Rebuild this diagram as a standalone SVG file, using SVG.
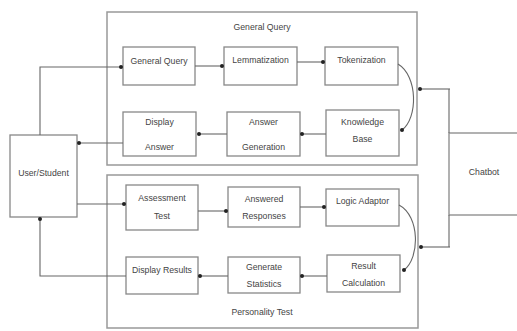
<svg xmlns="http://www.w3.org/2000/svg" width="517" height="331" viewBox="0 0 517 331">
<defs>
<marker id="dot" markerWidth="6" markerHeight="6" refX="3" refY="3" markerUnits="userSpaceOnUse">
<circle cx="3" cy="3" r="2" fill="#222"/>
</marker>
<style>
.box{fill:#fff;stroke:#888;stroke-width:1.3}
.cont{fill:#fff;stroke:#999;stroke-width:1.5}
.ln{fill:none;stroke:#666;stroke-width:1.1;marker-end:url(#dot)}
.ln0{fill:none;stroke:#666;stroke-width:1.1}
text{font-family:"Liberation Sans Narrow","Liberation Sans",Arial,sans-serif;font-size:8.7px;fill:#444;text-anchor:middle}
</style>
</defs>
<rect width="517" height="331" fill="#fff"/>
<g id="general-query-group">
<rect class="cont" x="107" y="12" width="310" height="153"/>
<text x="262" y="30">General Query</text>
</g>
<g id="personality-test-group">
<rect class="cont" x="107" y="175" width="311" height="153"/>
<text x="262" y="315">Personality Test</text>
</g>
<g id="user">
<rect class="box" x="10" y="135" width="67" height="82"/>
<text x="43.5" y="176">User/Student</text>
</g>
<g id="chatbot">
<rect class="box" x="449" y="133" width="72" height="82"/>
<text x="484" y="175">Chatbot</text>
</g>
<g id="general-query">
<rect class="box" x="123" y="47" width="72" height="38"/>
<text x="159" y="64">General Query</text>
</g>
<g id="lemmatization">
<rect class="box" x="224" y="47" width="73" height="38"/>
<text x="260.5" y="63">Lemmatization</text>
</g>
<g id="tokenization">
<rect class="box" x="325" y="47" width="73" height="38"/>
<text x="361.5" y="63">Tokenization</text>
</g>
<g id="knowledge-base">
<rect class="box" x="326" y="110" width="73" height="46"/>
<text x="362.5" y="125">Knowledge</text>
<text x="362.5" y="142">Base</text>
</g>
<g id="answer-generation">
<rect class="box" x="227" y="112" width="73" height="44"/>
<text x="263.5" y="125">Answer</text>
<text x="263.5" y="150">Generation</text>
</g>
<g id="display-answer">
<rect class="box" x="123" y="112" width="73" height="44"/>
<text x="159.5" y="125">Display</text>
<text x="159.5" y="150">Answer</text>
</g>
<g id="assessment-test">
<rect class="box" x="126" y="185" width="72" height="45"/>
<text x="162" y="201">Assessment</text>
<text x="162" y="219">Test</text>
</g>
<g id="answered-responses">
<rect class="box" x="228" y="187" width="72" height="40"/>
<text x="264" y="202">Answered</text>
<text x="264" y="219">Responses</text>
</g>
<g id="logic-adaptor">
<rect class="box" x="326" y="189" width="73" height="37"/>
<text x="362.5" y="204">Logic Adaptor</text>
</g>
<g id="result-calculation">
<rect class="box" x="327" y="255" width="73" height="37"/>
<text x="363.5" y="269">Result</text>
<text x="363.5" y="286">Calculation</text>
</g>
<g id="generate-statistics">
<rect class="box" x="228" y="257" width="72" height="36"/>
<text x="264" y="270">Generate</text>
<text x="264" y="287">Statistics</text>
</g>
<g id="display-results">
<rect class="box" x="126" y="257" width="72" height="37"/>
<text x="162" y="273">Display Results</text>
</g>
<g id="connectors">
<path class="ln" d="M40,135 V67 H121"/>
<path class="ln" d="M195,66 H222"/>
<path class="ln" d="M297,62 H323"/>
<path class="ln" d="M398,64 C418,76 418,118 402,130"/>
<path class="ln" d="M326,134 H302"/>
<path class="ln" d="M227,134 H199"/>
<path class="ln" d="M123,143 H79"/>
<path class="ln0" d="M449,133 V89"/>
<path class="ln" d="M450,89 H420"/>
<path class="ln0" d="M449,215 V247"/>
<path class="ln" d="M450,247 H421"/>
<path class="ln" d="M77,204 H124"/>
<path class="ln" d="M198,211 H226"/>
<path class="ln" d="M300,207 H324"/>
<path class="ln" d="M399,205 C420,216 420,258 404,270"/>
<path class="ln" d="M327,276 H302"/>
<path class="ln" d="M228,276 H200"/>
<path class="ln" d="M126,276 H40 V219"/>
</g>
</svg>
